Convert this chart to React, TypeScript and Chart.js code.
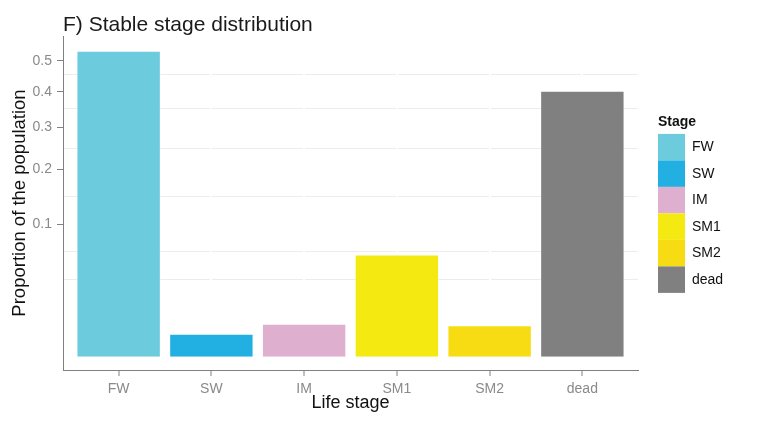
import React, { useEffect, useRef } from 'react';
import { Chart, registerables, LinearScale } from 'chart.js';

Chart.register(...registerables);

// Stable stage distribution (proportion of the population per life stage)
const STAGES = ['FW', 'SW', 'IM', 'SM1', 'SM2', 'dead'];
const PROPORTIONS = [0.534, 0.003, 0.0062, 0.0598, 0.0057, 0.4037];
const STAGE_COLORS = ['#6ccbdd', '#22b0e3', '#dfafd0', '#f4ea12', '#f7dc14', '#7f807f'];

// Square-root y axis: labelled breaks and light minor grid lines
const Y_MAJOR_TICKS = [0.1, 0.2, 0.3, 0.4, 0.5];
const Y_MINOR_TICKS = [0.034, 0.063, 0.146, 0.248, 0.353, 0.453];
const Y_LIMITS = [-0.001, 0.587];
const X_LIMITS = [0.4, 6.6];

const FONT = "'Liberation Sans', Arial, Helvetica, sans-serif";
const TICK_GREY = '#8a8a8a';
const AXIS_GREY = '#808080';

const signedSqrt = (v: number) => Math.sign(v) * Math.sqrt(Math.abs(v));

// Linear scale whose pixel mapping is done in square-root space
class SqrtScale extends LinearScale {
  static id = 'sqrt';

  getPixelForValue(value: number) {
    const lo = signedSqrt(this.min);
    const hi = signedSqrt(this.max);
    return this.getPixelForDecimal((signedSqrt(value) - lo) / (hi - lo));
  }

  getValueForPixel(pixel: number) {
    const lo = signedSqrt(this.min);
    const hi = signedSqrt(this.max);
    const s = lo + this.getDecimalForPixel(pixel) * (hi - lo);
    return Math.sign(s) * s * s;
  }
}
Chart.register(SqrtScale);

// Leaves a gap between the plot panel and the legend keys
const legendGap = {
  id: 'legendGap',
  afterLayout(chart: any) {
    const legend = chart.legend;
    if (legend) {
      legend.left += 20;
      legend.right += 20;
    }
  },
};

export default function App() {
  const canvasRef = useRef<HTMLCanvasElement>(null);

  useEffect(() => {
    const canvas = canvasRef.current;
    if (!canvas) return;

    const chart = new Chart(canvas, {
      type: 'bar',
      data: {
        datasets: [
          {
            label: 'Stage',
            data: STAGES.map((_, i) => ({ x: i + 1, y: PROPORTIONS[i] })),
            backgroundColor: STAGE_COLORS,
            borderColor: 'rgba(255,255,255,0.5)',
            borderWidth: 1,
            borderSkipped: 'start',
            barPercentage: 0.91,
            categoryPercentage: 1,
          },
        ],
      },
      options: {
        animation: false,
        responsive: true,
        maintainAspectRatio: false,
        devicePixelRatio: 1,
        events: [],
        layout: { padding: { left: 0, top: 0, bottom: 0, right: 63 } },
        scales: {
          y: {
            type: 'sqrt' as any,
            min: Y_LIMITS[0],
            max: Y_LIMITS[1],
            bounds: 'data',
            afterBuildTicks: (scale: any) => {
              const major = Y_MAJOR_TICKS.map((value) => ({ value, major: true }));
              const minor = Y_MINOR_TICKS.map((value) => ({ value, major: false }));
              scale.ticks = [...major, ...minor].sort((a, b) => a.value - b.value);
            },
            afterFit: (scale: any) => {
              scale.width = 63;
            },
            grid: {
              z: -1,
              lineWidth: 1,
              color: (ctx: any) => (ctx.tick && ctx.tick.major ? 'rgba(0,0,0,0)' : '#ececec'),
              tickColor: (ctx: any) => (ctx.tick && ctx.tick.major ? AXIS_GREY : 'rgba(0,0,0,0)'),
              tickLength: 6,
              tickWidth: 1,
            },
            border: { display: true, color: AXIS_GREY, width: 1 },
            ticks: {
              autoSkip: false,
              padding: 5,
              color: TICK_GREY,
              font: { family: FONT, size: 14 },
              callback: (value: any, index: number, ticks: any[]) =>
                ticks[index] && ticks[index].major ? Number(value).toFixed(1) : '',
            },
            title: {
              display: true,
              text: 'Proportion of the population',
              color: '#111111',
              font: { family: FONT, size: 18.5, lineHeight: 1.2 },
              padding: { top: 8.5, bottom: 0 },
            },
          },
          x: {
            type: 'linear',
            min: X_LIMITS[0],
            max: X_LIMITS[1],
            bounds: 'data',
            offset: false,
            afterBuildTicks: (scale: any) => {
              scale.ticks = STAGES.map((_, i) => ({ value: i + 1 }));
            },
            afterFit: (scale: any) => {
              scale.height = 58;
            },
            grid: {
              offset: false,
              color: '#ffffff',
              lineWidth: 2,
              tickColor: AXIS_GREY,
              tickLength: 6,
              tickWidth: 1,
            },
            border: { display: true, color: AXIS_GREY, width: 1 },
            ticks: {
              autoSkip: false,
              maxRotation: 0,
              padding: 5,
              color: TICK_GREY,
              font: { family: FONT, size: 14 },
              callback: (value: any) => STAGES[Math.round(Number(value)) - 1] ?? '',
            },
            title: {
              display: true,
              text: 'Life stage',
              color: '#111111',
              font: { family: FONT, size: 18, lineHeight: 1.2 },
              padding: { top: 0, bottom: 14 },
            },
          },
        },
        plugins: {
          tooltip: { enabled: false },
          title: {
            display: true,
            text: 'F) Stable stage distribution',
            align: 'start',
            fullSize: false,
            color: '#1a1a1a',
            font: { family: FONT, size: 21, weight: 'normal', lineHeight: 1 },
            padding: { top: 15, bottom: 0 },
          },
          legend: {
            display: true,
            position: 'right',
            align: 'center',
            fullSize: false,
            maxWidth: 70,
            title: {
              display: true,
              text: 'Stage',
              position: 'start',
              color: '#111111',
              font: { family: FONT, size: 14, weight: 'bold', lineHeight: 1.2 },
              padding: { top: 2, bottom: 2 },
            },
            labels: {
              boxWidth: 27,
              boxHeight: 26.5,
              padding: 0,
              color: '#111111',
              font: { family: FONT, size: 14 },
              generateLabels: () =>
                STAGES.map((stage, i) => ({
                  text: stage,
                  fillStyle: STAGE_COLORS[i],
                  strokeStyle: STAGE_COLORS[i],
                  lineWidth: 0,
                  hidden: false,
                  index: i,
                  datasetIndex: 0,
                })),
            },
          },
        },
      },
      plugins: [legendGap],
    } as any);

    return () => chart.destroy();
  }, []);

  return (
    <div
      style={{
        position: 'absolute',
        left: 0,
        top: 0,
        width: 771,
        height: 428,
        background: '#ffffff',
      }}
    >
      <canvas ref={canvasRef} />
    </div>
  );
}
